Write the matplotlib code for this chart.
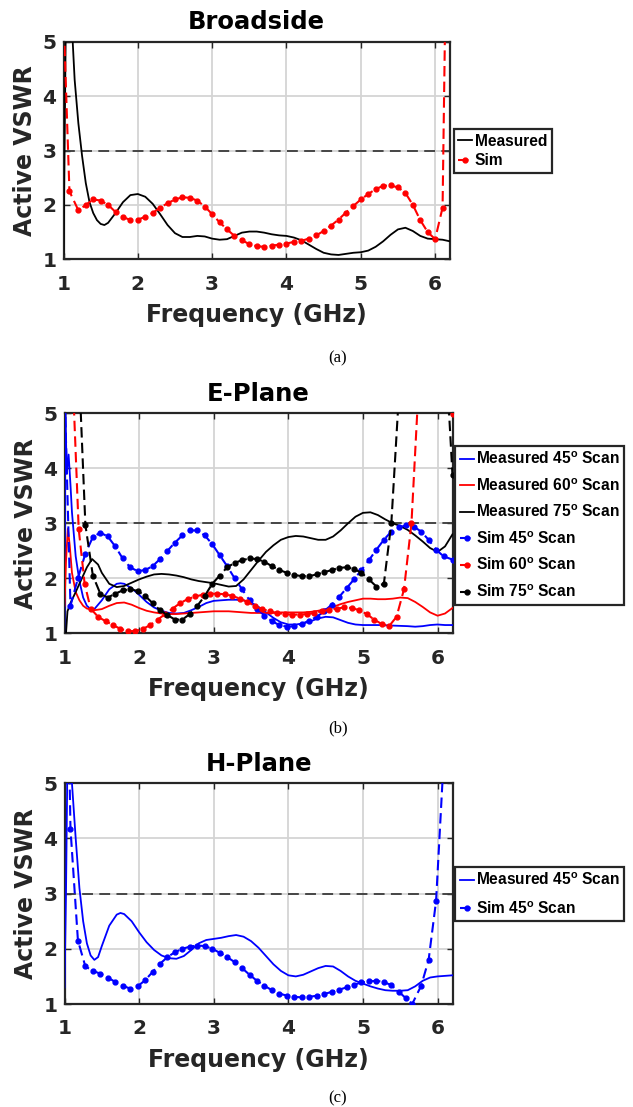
import numpy as np
import matplotlib
matplotlib.use("Agg")
import matplotlib.pyplot as plt
from matplotlib.font_manager import FontProperties

plt.rcParams['font.family'] = ['DejaVu Sans']
plt.rcParams['font.weight'] = 'bold'
plt.rcParams['mathtext.fontset'] = 'custom'
plt.rcParams['mathtext.rm'] = 'Liberation Sans:bold'
plt.rcParams['mathtext.bf'] = 'Liberation Sans:bold'
plt.rcParams['mathtext.it'] = 'Liberation Sans:bold'

# ---------------- Panel (a) Broadside ----------------
a_meas_f = [1.0, 1.04, 1.08, 1.12, 1.15, 1.2, 1.25, 1.3, 1.35, 1.4, 1.45, 1.5, 1.55, 1.6, 1.7, 1.8,
            1.9, 2.0, 2.1, 2.2, 2.3, 2.4, 2.5, 2.6, 2.7, 2.8, 2.9, 3.0, 3.1, 3.2, 3.3, 3.4, 3.5,
            3.6, 3.7, 3.8, 3.9, 4.0, 4.1, 4.2, 4.3, 4.4, 4.5, 4.6, 4.7, 4.8, 4.9, 5.0, 5.1, 5.2,
            5.3, 5.4, 5.5, 5.6, 5.7, 5.8, 5.9, 6.0, 6.1, 6.2]
a_meas_v = [1.1, 6.5, 8.0, 5.1, 4.3, 3.5, 2.9, 2.4, 2.05, 1.85, 1.72, 1.65, 1.63, 1.67, 1.85, 2.05,
            2.18, 2.2, 2.15, 2.02, 1.83, 1.63, 1.48, 1.41, 1.41, 1.43, 1.42, 1.38, 1.36, 1.37, 1.43,
            1.49, 1.51, 1.51, 1.49, 1.46, 1.44, 1.43, 1.4, 1.35, 1.27, 1.19, 1.12, 1.09, 1.08, 1.1,
            1.12, 1.13, 1.16, 1.23, 1.33, 1.45, 1.55, 1.58, 1.52, 1.43, 1.38, 1.37, 1.36, 1.33]
a_sim_f = [1.0, 1.08, 1.2, 1.3, 1.4, 1.5, 1.6, 1.7, 1.8, 1.9, 2.0, 2.1, 2.2, 2.3, 2.4, 2.5, 2.6,
           2.7, 2.8, 2.9, 3.0, 3.1, 3.2, 3.3, 3.4, 3.5, 3.6, 3.7, 3.8, 3.9, 4.0, 4.1, 4.2, 4.3,
           4.4, 4.5, 4.6, 4.7, 4.8, 4.9, 5.0, 5.1, 5.2, 5.3, 5.4, 5.5, 5.6, 5.7, 5.8, 5.9, 6.0,
           6.1, 6.2]
a_sim_v = [5.5, 2.25, 1.9, 2.0, 2.1, 2.08, 2.0, 1.87, 1.78, 1.72, 1.73, 1.78, 1.85, 1.95, 2.03,
           2.1, 2.14, 2.13, 2.08, 1.97, 1.83, 1.68, 1.55, 1.43, 1.35, 1.28, 1.24, 1.23, 1.25, 1.27,
           1.29, 1.32, 1.34, 1.38, 1.44, 1.52, 1.62, 1.73, 1.86, 1.98, 2.1, 2.2, 2.29, 2.35, 2.36,
           2.32, 2.22, 2.0, 1.72, 1.5, 1.37, 1.95, 12.0]

# ---------------- Panel (b) E-Plane ----------------
b_m45_f = [1.0, 1.01, 1.03, 1.055, 1.08, 1.1, 1.15, 1.2, 1.25, 1.3, 1.35, 1.4, 1.5, 1.6, 1.7, 1.75,
           1.8, 1.9, 2.0, 2.1, 2.2, 2.3, 2.4, 2.5, 2.6, 2.7, 2.8, 2.9, 3.0, 3.1, 3.2, 3.3, 3.4,
           3.5, 3.6, 3.7, 3.8, 3.9, 4.0, 4.1, 4.2, 4.3, 4.4, 4.5, 4.6, 4.7, 4.8, 4.9, 5.0, 5.2,
           5.4, 5.6, 5.7, 5.8, 5.9, 6.0, 6.1, 6.2]
b_m45_v = [1.0, 5.2, 3.9, 4.25, 3.7, 3.2, 2.4, 1.95, 1.65, 1.5, 1.44, 1.44, 1.6, 1.8, 1.9, 1.91,
           1.9, 1.82, 1.7, 1.57, 1.47, 1.41, 1.37, 1.36, 1.37, 1.42, 1.48, 1.55, 1.59, 1.6, 1.61,
           1.61, 1.6, 1.56, 1.48, 1.38, 1.28, 1.2, 1.16, 1.16, 1.18, 1.22, 1.27, 1.3, 1.29, 1.24,
           1.19, 1.16, 1.15, 1.15, 1.14, 1.13, 1.12, 1.13, 1.15, 1.16, 1.15, 1.15]
b_m60_f = [1.0, 1.02, 1.045, 1.07, 1.1, 1.15, 1.2, 1.25, 1.3, 1.4, 1.5, 1.6, 1.7, 1.8, 1.9, 2.0,
           2.1, 2.2, 2.3, 2.4, 2.5, 2.6, 2.7, 2.8, 2.9, 3.0, 3.1, 3.2, 3.3, 3.4, 3.5, 3.6, 3.7,
           3.8, 3.9, 4.0, 4.2, 4.3, 4.4, 4.5, 4.6, 4.7, 4.8, 4.9, 5.0, 5.1, 5.2, 5.3, 5.4, 5.5,
           5.6, 5.7, 5.8, 5.9, 6.0, 6.1, 6.2]
b_m60_v = [1.5, 2.3, 2.9, 2.6, 2.1, 1.75, 1.6, 1.5, 1.45, 1.42, 1.44, 1.5, 1.55, 1.56, 1.52, 1.46,
           1.41, 1.38, 1.36, 1.35, 1.35, 1.36, 1.37, 1.38, 1.39, 1.4, 1.4, 1.4, 1.39, 1.38, 1.37,
           1.37, 1.37, 1.37, 1.38, 1.38, 1.38, 1.39, 1.41, 1.44, 1.48, 1.53, 1.57, 1.6, 1.63, 1.63,
           1.62, 1.62, 1.63, 1.65, 1.64, 1.57, 1.48, 1.38, 1.32, 1.36, 1.46]
b_m75_f = [1.0, 1.02, 1.04, 1.08, 1.15, 1.2, 1.25, 1.3, 1.37, 1.45, 1.5, 1.6, 1.7, 1.8, 1.9, 2.0,
           2.1, 2.2, 2.3, 2.4, 2.5, 2.6, 2.7, 2.8, 2.9, 3.0, 3.1, 3.2, 3.3, 3.4, 3.5, 3.6, 3.7,
           3.8, 3.9, 4.0, 4.1, 4.2, 4.3, 4.4, 4.5, 4.6, 4.7, 4.8, 4.9, 5.0, 5.1, 5.2, 5.3, 5.4,
           5.5, 5.6, 5.7, 5.8, 5.9, 6.0, 6.1, 6.2]
b_m75_v = [1.0, 1.0, 1.4, 1.55, 1.75, 1.9, 2.05, 2.2, 2.35, 2.25, 2.1, 1.9, 1.84, 1.86, 1.92, 1.98,
           2.03, 2.07, 2.08, 2.07, 2.05, 2.02, 1.98, 1.95, 1.93, 1.91, 1.88, 1.85, 1.86, 1.98, 2.15,
           2.32, 2.48, 2.6, 2.7, 2.75, 2.77, 2.76, 2.73, 2.7, 2.7, 2.76, 2.87, 3.0, 3.12, 3.19, 3.2,
           3.15, 3.07, 3.0, 2.95, 2.88, 2.78, 2.67, 2.55, 2.48, 2.58, 2.8]
b_s45_f = [1.0, 1.08, 1.18, 1.28, 1.38, 1.48, 1.58, 1.68, 1.78, 1.88, 1.98, 2.08, 2.18, 2.28, 2.38,
           2.48, 2.58, 2.68, 2.78, 2.88, 2.98, 3.08, 3.18, 3.28, 3.38, 3.48, 3.58, 3.68, 3.78, 3.88,
           3.98, 4.08, 4.18, 4.28, 4.38, 4.48, 4.58, 4.68, 4.78, 4.88, 4.98, 5.08, 5.18, 5.28, 5.38,
           5.48, 5.58, 5.68, 5.78, 5.88, 5.98, 6.08, 6.2]
b_s45_v = [5.5, 1.5, 2.0, 2.45, 2.75, 2.83, 2.76, 2.58, 2.36, 2.2, 2.13, 2.15, 2.22, 2.35, 2.5,
           2.65, 2.78, 2.87, 2.87, 2.78, 2.62, 2.42, 2.22, 2.0, 1.8, 1.6, 1.45, 1.32, 1.22, 1.15,
           1.12, 1.13, 1.17, 1.23, 1.3, 1.4, 1.52, 1.66, 1.82, 1.98, 2.15, 2.33, 2.52, 2.7, 2.85,
           2.93, 2.96, 2.94, 2.85, 2.7, 2.52, 2.4, 2.34]
b_s60_f = [1.1, 1.19, 1.27, 1.35, 1.45, 1.55, 1.65, 1.75, 1.85, 1.95, 2.05, 2.15, 2.25, 2.35, 2.45,
           2.55, 2.65, 2.75, 2.85, 2.95, 3.05, 3.15, 3.25, 3.35, 3.45, 3.55, 3.65, 3.75, 3.85, 3.95,
           4.05, 4.15, 4.25, 4.35, 4.45, 4.55, 4.65, 4.75, 4.85, 4.95, 5.05, 5.15, 5.25, 5.35, 5.45,
           5.55, 5.65, 5.75, 5.9, 6.2]
b_s60_v = [6.0, 2.9, 1.9, 1.45, 1.3, 1.22, 1.15, 1.08, 1.04, 1.04, 1.08, 1.15, 1.25, 1.35, 1.45,
           1.55, 1.62, 1.67, 1.7, 1.72, 1.72, 1.71, 1.68, 1.63, 1.57, 1.5, 1.44, 1.4, 1.37, 1.35,
           1.34, 1.34, 1.35, 1.37, 1.4, 1.43, 1.45, 1.47, 1.46, 1.42, 1.35, 1.25, 1.17, 1.13, 1.3,
           1.8, 3.0, 5.6, 9.0, 4.98]
b_s75_f = [1.2, 1.28, 1.38, 1.48, 1.58, 1.68, 1.78, 1.88, 1.98, 2.08, 2.18, 2.28, 2.38, 2.48, 2.58,
           2.68, 2.78, 2.88, 2.98, 3.08, 3.18, 3.28, 3.38, 3.48, 3.58, 3.68, 3.78, 3.88, 3.98, 4.08,
           4.18, 4.28, 4.38, 4.48, 4.58, 4.68, 4.78, 4.88, 4.98, 5.08, 5.18, 5.28, 5.38, 5.48, 5.7,
           6.13, 6.2]
b_s75_v = [5.6, 2.97, 2.05, 1.72, 1.65, 1.72, 1.78, 1.8, 1.77, 1.68, 1.55, 1.42, 1.33, 1.25, 1.25,
           1.35, 1.5, 1.68, 1.9, 2.05, 2.2, 2.28, 2.33, 2.36, 2.35, 2.3, 2.22, 2.15, 2.1, 2.06,
           2.04, 2.04, 2.07, 2.11, 2.15, 2.19, 2.2, 2.17, 2.1, 1.98, 1.85, 1.9, 3.0, 5.3, 9.0,
           5.6, 3.87]

# ---------------- Panel (c) H-Plane ----------------
c_m45_f = [1.0, 1.02, 1.04, 1.07, 1.1, 1.15, 1.2, 1.25, 1.3, 1.35, 1.4, 1.45, 1.5, 1.6, 1.7, 1.75,
           1.8, 1.9, 2.0, 2.1, 2.2, 2.3, 2.4, 2.5, 2.6, 2.7, 2.8, 2.9, 3.0, 3.1, 3.2, 3.3, 3.4,
           3.5, 3.6, 3.7, 3.8, 3.9, 4.0, 4.1, 4.2, 4.3, 4.4, 4.5, 4.6, 4.7, 4.8, 4.9, 5.0, 5.1,
           5.2, 5.3, 5.4, 5.5, 5.6, 5.7, 5.8, 5.9, 6.0, 6.1, 6.2]
c_m45_v = [1.3, 3.0, 5.5, 7.0, 5.0, 4.0, 3.1, 2.5, 2.1, 1.88, 1.8, 1.85, 2.05, 2.42, 2.62, 2.65,
           2.63, 2.5, 2.3, 2.12, 1.98, 1.88, 1.83, 1.82, 1.87, 1.98, 2.1, 2.16, 2.18, 2.2, 2.23,
           2.25, 2.22, 2.14, 2.02, 1.87, 1.72, 1.6, 1.52, 1.5, 1.53, 1.59, 1.65, 1.69, 1.68, 1.6,
           1.5, 1.42, 1.37, 1.32, 1.28, 1.25, 1.24, 1.24, 1.25, 1.32, 1.42, 1.48, 1.5, 1.51, 1.52]
c_s45_f = [1.03, 1.08, 1.18, 1.28, 1.38, 1.48, 1.58, 1.68, 1.78, 1.88, 1.98, 2.08, 2.18, 2.28,
           2.38, 2.48, 2.58, 2.68, 2.78, 2.88, 2.98, 3.08, 3.18, 3.28, 3.38, 3.48, 3.58, 3.68, 3.78,
           3.88, 3.98, 4.08, 4.18, 4.28, 4.38, 4.48, 4.58, 4.68, 4.78, 4.88, 4.98, 5.08, 5.18, 5.28,
           5.38, 5.48, 5.58, 5.66, 5.78, 5.88, 5.98, 6.1]
c_s45_v = [8.0, 4.18, 2.15, 1.68, 1.6, 1.55, 1.48, 1.4, 1.33, 1.28, 1.32, 1.43, 1.58, 1.73,
           1.85, 1.94, 2.0, 2.04, 2.06, 2.05, 2.0, 1.93, 1.85, 1.76, 1.65, 1.53, 1.42, 1.33, 1.25,
           1.19, 1.15, 1.13, 1.12, 1.13, 1.15, 1.18, 1.22, 1.26, 1.3, 1.35, 1.39, 1.41, 1.42, 1.4,
           1.34, 1.22, 1.1, 1.0, 1.33, 1.8, 2.87, 5.9]

FIG_W, FIG_H = 633, 1107
fig = plt.figure(figsize=(FIG_W / 100, FIG_H / 100), dpi=100)

TXT = '#262626'
deg = '$^{\\rm o}$'
LEG_FONT = FontProperties(family=['Liberation Sans', 'DejaVu Sans'], weight='bold', size=11.2)


def px_rect(x0, y0, x1, y1):
    return [x0 / FIG_W, 1 - y1 / FIG_H, (x1 - x0) / FIG_W, (y1 - y0) / FIG_H]


def style_ax(ax, title):
    ax.set_xlim(1, 6.2)
    ax.set_ylim(1, 5)
    ax.set_xticks([1, 2, 3, 4, 5, 6])
    ax.set_yticks([1, 2, 3, 4, 5])
    ax.grid(True, color='#d4d4d4', lw=1.3)
    ax.set_axisbelow(True)
    ax.axhline(3, color='#3a3a3a', lw=1.3, ls=(0, (6, 3.5)), zorder=1.5)
    for s in ax.spines.values():
        s.set_linewidth(1.6)
        s.set_color(TXT)
    ax.tick_params(direction='in', length=4, width=1, top=True, right=True,
                   labelsize=14.5, colors=TXT, pad=5)
    ax.tick_params(axis='x', pad=11)
    for lab in ax.get_xticklabels() + ax.get_yticklabels():
        lab.set_fontweight('bold')
    ax.set_xlabel('Frequency (GHz)', fontsize=17, fontweight='bold', color=TXT, labelpad=7)
    ax.set_ylabel('Active VSWR', fontsize=17, fontweight='bold', color=TXT, labelpad=4)
    ax.set_title(title, fontsize=17.5, fontweight='bold', color='black', pad=9)


def sim(ax, f, v, c, label):
    ax.plot(f, v, color=c, ls=(0, (5, 2.5)), lw=1.5, marker='.', ms=7, label=label,
            zorder=3, clip_on=True)


def meas(ax, f, v, c, label):
    ax.plot(f, v, color=c, lw=1.3, label=label, zorder=3)


def legend(ax, x0, ytop, spacing):
    lg = ax.legend(loc='upper left', bbox_to_anchor=(x0 / FIG_W, 1 - ytop / FIG_H),
                   bbox_transform=fig.transFigure, prop=LEG_FONT, frameon=True, fancybox=False,
                   edgecolor=TXT, handlelength=0.9, handletextpad=0.15, borderpad=0.3,
                   labelspacing=spacing, borderaxespad=0, numpoints=1, framealpha=1)
    lg.get_frame().set_linewidth(1.6)
    return lg


# (a)
ax1 = fig.add_axes(px_rect(63.5, 41.7, 450.0, 259.3))
style_ax(ax1, 'Broadside')
meas(ax1, a_meas_f, a_meas_v, 'black', 'Measured')
sim(ax1, a_sim_f, a_sim_v, 'red', 'Sim')
legend(ax1, 453.5, 129, 0.3)

# (b)
ax2 = fig.add_axes(px_rect(64.5, 413.3, 452.5, 633.3))
style_ax(ax2, 'E-Plane')
meas(ax2, b_m45_f, b_m45_v, 'blue', 'Measured 45' + deg + ' Scan')
meas(ax2, b_m60_f, b_m60_v, 'red', 'Measured 60' + deg + ' Scan')
meas(ax2, b_m75_f, b_m75_v, 'black', 'Measured 75' + deg + ' Scan')
sim(ax2, b_s45_f, b_s45_v, 'blue', 'Sim 45' + deg + ' Scan')
sim(ax2, b_s60_f, b_s60_v, 'red', 'Sim 60' + deg + ' Scan')
sim(ax2, b_s75_f, b_s75_v, 'black', 'Sim 75' + deg + ' Scan')
legend(ax2, 455, 446, 0.64)

# (c)
ax3 = fig.add_axes(px_rect(64.5, 783.3, 452.5, 1004.0))
style_ax(ax3, 'H-Plane')
meas(ax3, c_m45_f, c_m45_v, 'blue', 'Measured 45' + deg + ' Scan')
sim(ax3, c_s45_f, c_s45_v, 'blue', 'Sim 45' + deg + ' Scan')
legend(ax3, 455, 867, 0.75)

for lab, yc in (('(a)', 358), ('(b)', 728), ('(c)', 1098)):
    fig.text(337.7 / FIG_W, 1 - yc / FIG_H, lab, ha='center', va='center',
             fontsize=12, family=['Liberation Serif', 'DejaVu Serif'], fontweight='normal')

fig.savefig('out.png', dpi=100, facecolor='white')
